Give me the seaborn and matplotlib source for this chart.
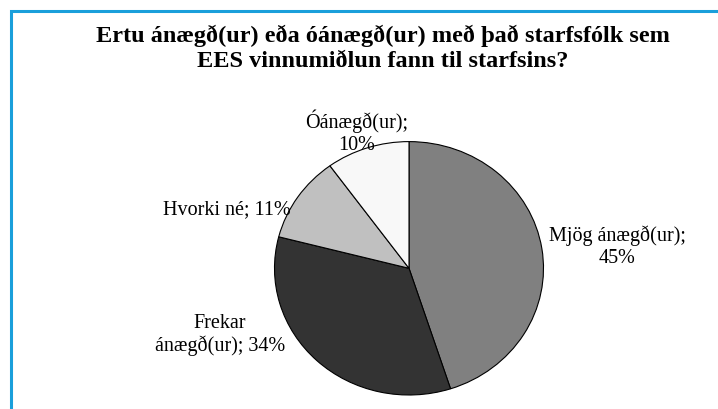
import matplotlib
matplotlib.use("Agg")
import matplotlib.pyplot as plt
from matplotlib.patches import Rectangle
import seaborn as sns

# data
categories = ["Mjög ánægð(ur)", "Frekar\nánægð(ur)", "Hvorki né", "Óánægð(ur)"]
shares = [45, 34, 11, 10]
label_texts = ["Mjög ánægð(ur);\n45%", "Frekar\nánægð(ur); 34%", "Hvorki né; 11%", "Óánægð(ur);\n10%"]
slice_colors = ["#808080", "#333333", "#c0c0c0", "#f8f8f8"]

title = "Ertu ánægð(ur) eða óánægð(ur) með það starfsfólk sem\nEES vinnumiðlun fann til starfsins?"

sns.set_theme(style="white")
plt.rcParams['font.family'] = ['Liberation Serif', 'DejaVu Serif']

fig = plt.figure(figsize=(7.18, 4.09), dpi=100)
fig.patch.set_facecolor("white")

# pie axes placed so the (slightly squashed) pie sits where it is in the picture
W, H = 718, 409
cx, cy, rx, ry = 409, 268.3, 134.5, 126.7
ax = fig.add_axes([(cx - 1.25 * rx) / W, (H - cy - 1.25 * ry) / H, 2.5 * rx / W, 2.5 * ry / H])

wedges, texts = ax.pie(shares, labels=label_texts, colors=slice_colors,
                       startangle=90, counterclock=False,
                       wedgeprops=dict(edgecolor="black", linewidth=0.8),
                       textprops=dict(fontsize=14.5, color="black"))
ax.set_aspect("auto")
ax.set_xlim(-1.25, 1.25)
ax.set_ylim(-1.25, 1.25)
ax.axis("off")

# label spots (Excel-style placement)
label_pos = [(1.547, 0.168), (-1.405, -0.527), (-1.353, 0.46), (-0.387, 1.076)]
for t, p in zip(texts, label_pos):
    t.set_position(p)
    t.set_ha("center")
    t.set_va("center")
    t.set_multialignment("center")

fig.text(383 / W, 1 - 48 / H, title, ha="center", va="center", color="black",
         fontsize=17.5, fontweight="bold", linespacing=1.24)

# blue chart frame (only the left and top edges are in view)
fig.patches.append(Rectangle((11 / W, -0.1), 1.2, 1 - 11 / H + 0.1,
                             transform=fig.transFigure, fill=False,
                             edgecolor="#1a9fdb", linewidth=2.2))

fig.savefig("out.png", dpi=100)
